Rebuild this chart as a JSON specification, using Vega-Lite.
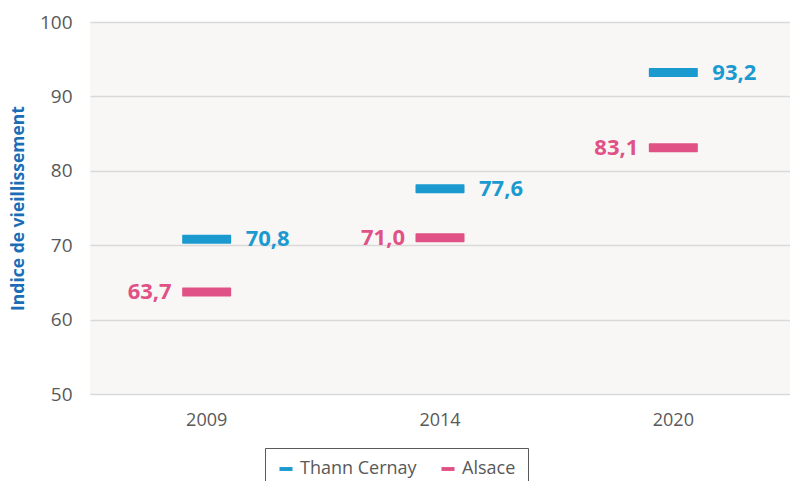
{
  "$schema": "https://vega.github.io/schema/vega-lite/v6.json",
  "width": 700,
  "height": 372,
  "autosize": {"type": "none"},
  "padding": {"left": 90, "top": 22, "right": 0, "bottom": 87},
  "background": "white",
  "config": {
    "font": "Open Sans",
    "view": {"fill": "#f8f7f6", "stroke": null},
    "locale": {"number": {"decimal": ",", "thousands": " ", "grouping": [3], "currency": ["", " €"]}}
  },
  "data": {
    "values": [
      {"annee": "2009", "serie": "Thann Cernay", "valeur": 70.8},
      {"annee": "2014", "serie": "Thann Cernay", "valeur": 77.6},
      {"annee": "2020", "serie": "Thann Cernay", "valeur": 93.2},
      {"annee": "2009", "serie": "Alsace", "valeur": 63.7},
      {"annee": "2014", "serie": "Alsace", "valeur": 71.0},
      {"annee": "2020", "serie": "Alsace", "valeur": 83.1}
    ]
  },
  "encoding": {
    "x": {
      "field": "annee", "type": "nominal", "title": null,
      "scale": {"paddingInner": 0, "paddingOuter": 0},
      "axis": {"labelAngle": 0, "labelColor": "#595959", "labelFontSize": 18, "labelPadding": 17, "ticks": false, "domain": false}
    },
    "y": {
      "field": "valeur", "type": "quantitative",
      "scale": {"domain": [50, 100], "nice": false, "zero": false},
      "axis": {
        "values": [50, 60, 70, 80, 90, 100], "title": "Indice de vieillissement",
        "titleColor": "#1b6db5", "titleFontSize": 17.5, "titleFontWeight": "bold", "titlePadding": 12,
        "labelColor": "#595959", "labelFontSize": 19, "labelPadding": 18, "ticks": false, "domain": false,
        "gridColor": "#d9d9d9", "gridWidth": 1.5
      }
    }
  },
  "layer": [
    {
      "mark": {"type": "tick", "thickness": 9, "size": 49, "cornerRadius": 1, "opacity": 1},
      "encoding": {
        "color": {
          "field": "serie", "type": "nominal",
          "scale": {"domain": ["Thann Cernay", "Alsace"], "range": ["#1b9ad0", "#e05186"]},
          "legend": {
            "title": null, "orient": "none", "direction": "horizontal",
            "legendX": 175, "legendY": 426,
            "symbolType": "M -1 -0.3 L 1 -0.3 L 1 0.3 L -1 0.3 Z", "symbolSize": 170, "symbolOpacity": 1,
            "labelFontSize": 18, "labelColor": "#595959", "labelOffset": 5,
            "columnPadding": 22, "padding": 12,
            "strokeColor": "#595959", "fillColor": "white"
          }
        }
      }
    },
    {
      "transform": [{"filter": "datum.serie === 'Thann Cernay'"}],
      "mark": {"type": "text", "align": "left", "baseline": "middle", "dx": 39, "fontSize": 22, "fontWeight": "bold", "color": "#1b9ad0"},
      "encoding": {"text": {"field": "valeur", "type": "quantitative", "format": ".1f"}}
    },
    {
      "transform": [{"filter": "datum.serie === 'Alsace'"}],
      "mark": {"type": "text", "align": "right", "baseline": "middle", "dx": -35, "fontSize": 22, "fontWeight": "bold", "color": "#e05186"},
      "encoding": {"text": {"field": "valeur", "type": "quantitative", "format": ".1f"}}
    }
  ]
}
